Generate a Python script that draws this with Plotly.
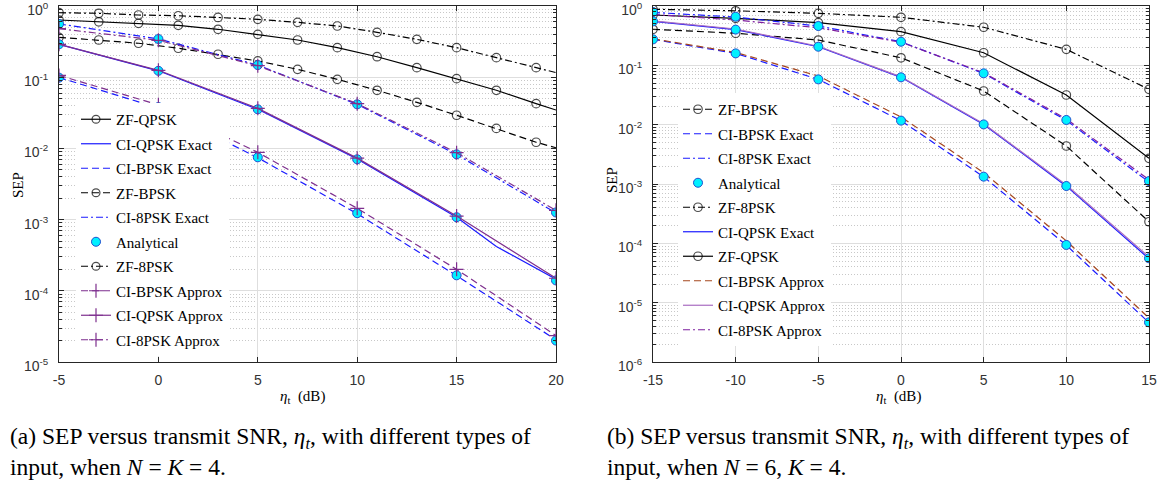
import plotly.graph_objects as go

# ---------------- data: left panel (N = K = 4) ----------------
x_zf_a = [-5, -3, -1, 1, 3, 5, 7, 9, 11, 13, 15, 17, 19, 20]
zf_8psk_a = [0.805, 0.79, 0.747, 0.73, 0.69, 0.65, 0.59, 0.524, 0.427, 0.34, 0.26, 0.188, 0.136, 0.116]
zf_qpsk_a = [0.636, 0.60, 0.571, 0.536, 0.471, 0.40, 0.333, 0.26, 0.194, 0.136, 0.0953, 0.0655, 0.0425, 0.0346]
zf_bpsk_a = [0.363, 0.333, 0.30, 0.255, 0.21, 0.169, 0.129, 0.0934, 0.0655, 0.0444, 0.0292, 0.0191, 0.0122, 0.0102]

x_ci_a = [-5, 0, 5, 10, 15, 20]
ana_bpsk_a = [0.0985, 0.038, 0.0075, 0.00123, 1.65e-4, 2.0e-5]
ana_qpsk_a = [0.29, 0.123, 0.0354, 0.00703, 0.00108, 1.4e-4]
ana_8psk_a = [0.559, 0.344, 0.148, 0.0416, 0.00826, 0.00126]
ex_bpsk_a = [0.099, 0.037, 0.0074, 0.00121, 1.63e-4, 2.05e-5]
ex_8psk_a = [0.56, 0.345, 0.148, 0.0416, 0.0082, 0.00124]
x_ex_qpsk_a = [-5, 0, 5, 10, 15, 17, 20]
ex_qpsk_a = [0.29, 0.123, 0.0355, 0.0071, 0.00108, 0.00042, 0.000145]
ap_bpsk_a = [0.106, 0.041, 0.0088, 0.00144, 2.0e-4, 2.35e-5]
ap_qpsk_a = [0.29, 0.125, 0.0365, 0.0073, 0.00112, 1.5e-4]
ap_8psk_a = [0.48, 0.33, 0.145, 0.0425, 0.0087, 0.00135]

# ---------------- data: right panel (N = 6, K = 4) ----------------
x_b = [-15, -10, -5, 0, 5, 10, 15]
zf_8psk_b = [0.88, 0.83, 0.753, 0.645, 0.438, 0.186, 0.0394]
zf_qpsk_b = [0.705, 0.62, 0.523, 0.369, 0.163, 0.0316, 0.00271]
zf_bpsk_b = [0.405, 0.347, 0.267, 0.134, 0.0369, 0.00437, 2.31e-4]
ana_8psk_b = [0.79, 0.66, 0.46, 0.25, 0.0733, 0.012, 0.00112]
ana_qpsk_b = [0.55, 0.40, 0.206, 0.0628, 0.0101, 9.25e-4, 5.6e-5]
ana_bpsk_b = [0.274, 0.159, 0.058, 0.0117, 1.33e-3, 9.4e-5, 4.66e-6]
ex_8psk_b = [0.78, 0.65, 0.46, 0.25, 0.073, 0.0118, 0.00108]
ex_qpsk_b = [0.55, 0.40, 0.206, 0.0628, 0.0101, 9.2e-4, 5.5e-5]
ex_bpsk_b = [0.274, 0.159, 0.058, 0.0117, 1.32e-3, 9.3e-5, 4.6e-6]
ap_bpsk_b = [0.28, 0.165, 0.066, 0.0135, 1.55e-3, 1.1e-4, 5.5e-6]
ap_qpsk_b = [0.56, 0.41, 0.21, 0.064, 0.0104, 9.6e-4, 5.9e-5]
ap_8psk_b = [0.72, 0.58, 0.43, 0.245, 0.075, 0.0125, 0.00118]

yt_a = [1e-5, 1e-4, 1e-3, 1e-2, 1e-1, 1e0]
yt_a_text = ["10<sup>-5</sup>", "10<sup>-4</sup>", "10<sup>-3</sup>", "10<sup>-2</sup>", "10<sup>-1</sup>", "10<sup>0</sup>"]
yt_b = [1e-6, 1e-5, 1e-4, 1e-3, 1e-2, 1e-1, 1e0]
yt_b_text = ["10<sup>-6</sup>"] + yt_a_text
xt_a = [-5, 0, 5, 10, 15, 20]
xt_a_text = ["-5", "0", "5", "10", "15", "20"]
xt_b = [-15, -10, -5, 0, 5, 10, 15]
xt_b_text = ["-15", "-10", "-5", "0", "5", "10", "15"]

# ---------------- styles ----------------
BLUE = "#1a1aff"
PURPLE = "#7E2F8E"
BROWN = "#A5471E"
LILAC = "#A86CC1"
VIOLET = "#7E1F9E"
CYAN = "#00F0FF"
DASH = "7px,4px"
DASHDOT = "7px,3px,2px,3px"
LW = 1.2

fig = go.Figure()


def zf(x, y, name, dash, xa, ya, leg, rank):
    sizes = [8.5] * len(y)
    if len(x) == 14:
        sizes[-1] = 0
    fig.add_trace(go.Scatter(
        x=x, y=y, name=name, mode="lines+markers", xaxis=xa, yaxis=ya, legend=leg,
        legendrank=rank, legendgroup=leg + name,
        line=dict(color="black", width=LW, dash=dash),
        marker=dict(symbol="circle-open", size=sizes, color="black", line=dict(width=1.2, color="black"))))


def ln(x, y, name, color, dash, xa, ya, leg, rank, plus=False):
    kw = {}
    mode = "lines"
    if plus:
        mode = "lines+markers"
        kw["marker"] = dict(symbol="cross-thin", size=10, color=color, line=dict(width=1.2, color=color))
    fig.add_trace(go.Scatter(
        x=x, y=y, name=name, mode=mode, xaxis=xa, yaxis=ya, legend=leg,
        legendrank=rank, legendgroup=leg + name,
        line=dict(color=color, width=LW, dash=dash), **kw))


def ana(x, y, xa, ya, leg, rank, show):
    fig.add_trace(go.Scatter(
        x=x, y=y, name="Analytical", mode="markers", xaxis=xa, yaxis=ya, legend=leg,
        legendrank=rank, legendgroup=leg + "Analytical", showlegend=show,
        marker=dict(symbol="circle", size=9, color=CYAN, line=dict(width=1, color="#1f4fd0"))))


# left panel
zf(x_zf_a, zf_qpsk_a, "ZF-QPSK", "solid", "x", "y", "legend", 1)
zf(x_zf_a, zf_bpsk_a, "ZF-BPSK", DASH, "x", "y", "legend", 4)
zf(x_zf_a, zf_8psk_a, "ZF-8PSK", DASHDOT, "x", "y", "legend", 7)
ln(x_ex_qpsk_a, ex_qpsk_a, "CI-QPSK Exact", BLUE, "solid", "x", "y", "legend", 2)
ln(x_ci_a, ex_bpsk_a, "CI-BPSK Exact", BLUE, DASH, "x", "y", "legend", 3)
ln(x_ci_a, ex_8psk_a, "CI-8PSK Exact", BLUE, DASHDOT, "x", "y", "legend", 5)
ana(x_ci_a, ana_qpsk_a, "x", "y", "legend", 6, True)
ana(x_ci_a, ana_bpsk_a, "x", "y", "legend", 6, False)
ana(x_ci_a, ana_8psk_a, "x", "y", "legend", 6, False)
ln(x_ci_a, ap_bpsk_a, "CI-BPSK Approx", PURPLE, DASH, "x", "y", "legend", 8, plus=True)
ln(x_ci_a, ap_qpsk_a, "CI-QPSK Approx", PURPLE, "solid", "x", "y", "legend", 9, plus=True)
ln(x_ci_a, ap_8psk_a, "CI-8PSK Approx", PURPLE, DASHDOT, "x", "y", "legend", 10, plus=True)

# right panel
zf(x_b, zf_bpsk_b, "ZF-BPSK", DASH, "x2", "y2", "legend2", 1)
zf(x_b, zf_8psk_b, "ZF-8PSK", DASHDOT, "x2", "y2", "legend2", 5)
zf(x_b, zf_qpsk_b, "ZF-QPSK", "solid", "x2", "y2", "legend2", 7)
ln(x_b, ex_bpsk_b, "CI-BPSK Exact", BLUE, DASH, "x2", "y2", "legend2", 2)
ln(x_b, ex_8psk_b, "CI-8PSK Exact", BLUE, DASHDOT, "x2", "y2", "legend2", 3)
ln(x_b, ex_qpsk_b, "CI-QPSK Exact", BLUE, "solid", "x2", "y2", "legend2", 6)
ln(x_b, ap_bpsk_b, "CI-BPSK Approx", BROWN, DASH, "x2", "y2", "legend2", 8)
ln(x_b, ap_qpsk_b, "CI-QPSK Approx", LILAC, "solid", "x2", "y2", "legend2", 9)
ln(x_b, ap_8psk_b, "CI-8PSK Approx", VIOLET, DASHDOT, "x2", "y2", "legend2", 10)
ana(x_b, ana_bpsk_b, "x2", "y2", "legend2", 4, True)
ana(x_b, ana_qpsk_b, "x2", "y2", "legend2", 4, False)
ana(x_b, ana_8psk_b, "x2", "y2", "legend2", 4, False)

W, H = 1170, 483
AX = "#262626"
GRID = "#dedede"
MINOR = "#c8c8c8"
TICKFONT = dict(family="Liberation Sans, Arial, sans-serif", size=14, color="#333333")


def xax(dom, rng, tv, tt, anchor):
    return dict(domain=dom, range=rng, tickvals=tv, ticktext=tt, ticks="inside", ticklen=5,
                tickcolor=AX, anchor=anchor, automargin=False, ticklabeloverflow="allow",
                showline=True, linecolor=AX, linewidth=1, mirror="ticks", showgrid=True,
                gridcolor=GRID, gridwidth=1, zeroline=False, tickfont=TICKFONT,
                ticklabelstandoff=5)


def yax(anchor, rng, tv, tt):
    return dict(domain=[1 - 362 / H, 1 - 6 / H], anchor=anchor, type="log", range=rng,
                automargin=False, ticklabeloverflow="allow",
                tickvals=tv, ticktext=tt, ticks="inside", ticklen=5, tickcolor=AX,
                showline=True, linecolor=AX, linewidth=1, mirror="ticks", showgrid=True,
                gridcolor=GRID, gridwidth=1, zeroline=False, tickfont=TICKFONT,
                ticklabelstandoff=7, ticklabelshift=4,
                minor=dict(ticks="inside", ticklen=3, tickcolor=AX, showgrid=True,
                           gridcolor=MINOR, griddash="1px,2px", gridwidth=1, dtick="D1"))


LEGFONT = dict(family="Liberation Serif, Times New Roman, serif", size=15, color="black")
SERIF = "Liberation Serif, Times New Roman, serif"

fig.update_layout(
    width=W, height=H, margin=dict(l=0, r=0, t=0, b=0, autoexpand=False),
    paper_bgcolor="white", plot_bgcolor="white",
    xaxis=xax([59 / W, 556 / W], [-5, 20], xt_a, xt_a_text, "y"),
    yaxis=yax("x", [-5, 0], yt_a, yt_a_text),
    xaxis2=xax([653 / W, 1149 / W], [-15, 15], xt_b, xt_b_text, "y2"),
    yaxis2=yax("x2", [-6, 0], yt_b, yt_b_text),
    legend=dict(x=76 / W, y=1 - 103 / H, xanchor="left", yanchor="top", bgcolor="white",
                borderwidth=0, font=LEGFONT, traceorder="grouped", tracegroupgap=2,
                itemwidth=30),
    legend2=dict(x=678 / W, y=1 - 93 / H, xanchor="left", yanchor="top", bgcolor="white",
                 borderwidth=0, font=LEGFONT, traceorder="grouped", tracegroupgap=2,
                 itemwidth=30),
    showlegend=True,
)

ann = []
for xc, yc in [(18 / W, 185), (612 / W, 180)]:
    ann.append(dict(x=xc, y=1 - yc / H, xref="paper", yref="paper", text="SEP", textangle=-90,
                    xanchor="center", yanchor="middle",
                    showarrow=False, font=dict(family=SERIF, size=15, color="black")))
for xc in [302 / W, 898 / W]:
    ann.append(dict(x=xc, y=1 - 397 / H, xref="paper", yref="paper",
                    xanchor="center", yanchor="middle",
                    text="<i>η</i><sub>t</sub>  (dB)", showarrow=False,
                    font=dict(family=SERIF, size=15, color="black")))
cap_a = ["(a) SEP versus transmit SNR, <i>η<sub>t</sub></i>, with different types of",
         "input, when <i>N</i> = <i>K</i> = 4."]
cap_b = ["(b) SEP versus transmit SNR, <i>η<sub>t</sub></i>, with different types of",
         "input, when <i>N</i> = 6, <i>K</i> = 4."]
for x0, lines in [(8 / W, cap_a), (605 / W, cap_b)]:
    for i, t in enumerate(lines):
        ann.append(dict(x=x0, y=1 - (438 + 29 * i) / H, xref="paper", yref="paper", text=t,
                        xanchor="left", yanchor="middle", showarrow=False,
                        font=dict(family=SERIF, size=23.5, color="black")))
fig.update_layout(annotations=ann)

fig.write_html("out.html", config={"displayModeBar": False},
               post_script="document.body.style.margin='0';document.body.style.overflow='hidden';")
